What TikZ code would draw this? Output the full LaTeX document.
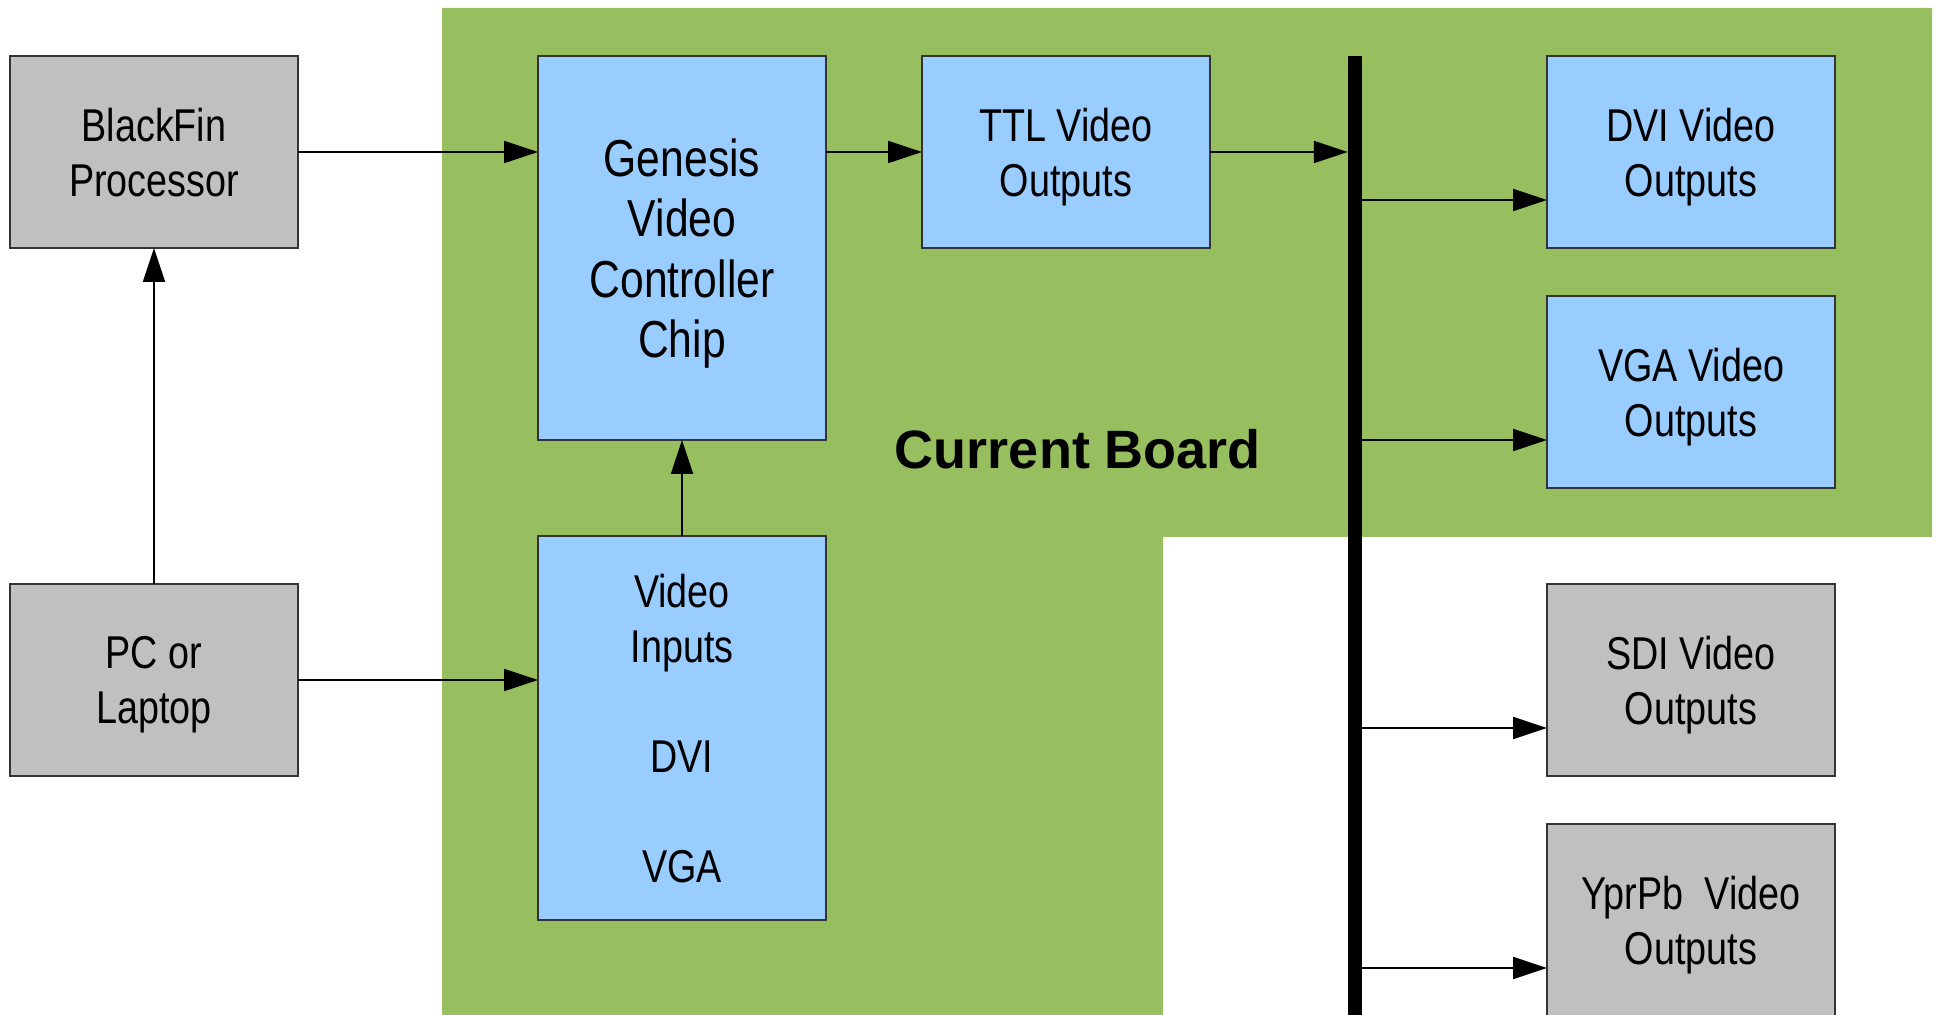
\documentclass[tikz,border=0pt]{standalone}
\usepackage{fontspec}
\setmainfont{Liberation Sans}
\newfontfamily\narrowfont[FakeStretch=0.82]{Liberation Sans}
\usepackage{tikz}
\usetikzlibrary{
  arrows.meta,
  positioning
}
\definecolor{boardcolor}{RGB}{151, 190, 95}
\definecolor{chipcolor}{RGB}{153, 204, 255}
\definecolor{extcolor}{RGB}{192, 192, 192}
\definecolor{edgecolor}{RGB}{52, 52, 52}
\tikzset{
blocktext/.style={
  align=center,
  font=\narrowfont\fontsize{23}{27.5}\selectfont,
  text=black,
  text depth=0pt
},
extblock/.style={
  draw=edgecolor,
  line width=0.75pt,
  fill=extcolor,
  minimum height=96pt,
  minimum width=144pt,
  inner sep=0pt,
  outer sep=0pt,
  blocktext
},
chipblock/.style={
  extblock,
  fill=chipcolor
},
tallblock/.style={
  chipblock,
  minimum height=192pt
},
boardlabel/.style={
  font=\bfseries\fontsize{27}{30}\selectfont,
  text=black
},
busline/.style={
  line width=7.25pt,
  draw=black
},
arrow/.style={
  -{Triangle[length=17pt,width=11pt]},
  line width=0.9pt,
  draw=black
}
}

\begin{document}
\begin{tikzpicture}[x=0.5pt,y=-0.5pt]
  \useasboundingbox (0,0) rectangle (1939,1015);
  % board area
  \fill[boardcolor] (442,8) -- (1932,8) -- (1932,537) -- (1163,537)
    -- (1163,1015) -- (442,1015) -- cycle;
  \node[boardlabel] (board) at (1078,449) {Current Board};

  % left side
  \node[extblock] (blackfin) at (154,152) {BlackFin\\Processor};
  \node[extblock, below=168pt of blackfin] (pc) {PC or\\Laptop};

  % board blocks
  \node[tallblock, right=120pt of blackfin.north east, anchor=north west,
    font=\narrowfont\fontsize{26}{30.25}\selectfont] (genesis)
    {Genesis\\Video\\Controller\\Chip};
  \node[tallblock, below=48pt of genesis] (videoin)
    {Video\\Inputs\\[27.5pt]DVI\\[27.5pt]VGA};
  \node[chipblock, right=48pt of genesis.north east, anchor=north west] (ttl)
    {TTL Video\\Outputs};

  % output bus
  \coordinate[right=72.5pt of ttl.north east] (bustop);
  \coordinate (busbottom) at (bustop |- 0,1015);
  \draw[busline] (bustop) -- (busbottom);

  \node[chipblock, right=96pt of bustop, anchor=north west] (dvi)
    {DVI Video\\Outputs};
  \node[chipblock, below=24pt of dvi] (vga) {VGA Video\\Outputs};
  \node[extblock, below=48pt of vga] (sdi) {SDI Video\\Outputs};
  \node[extblock, below=24pt of sdi] (yprpb) {YprPb\ \ Video\\Outputs};

  % connectors
  \draw[arrow] (blackfin) -- (genesis.west |- blackfin);
  \draw[arrow] (pc) -- (blackfin);
  \draw[arrow] (pc) -- (videoin.west |- pc);
  \draw[arrow] (videoin) -- (genesis);
  \draw[arrow] (genesis.east |- ttl) -- (ttl);
  \draw[arrow] (ttl) -- ([xshift=-3.6pt]bustop |- ttl);
  \foreach \out in {dvi, vga, sdi, yprpb} {
    \coordinate (\out-in) at ([yshift=-24pt]\out.west);
    \draw[arrow] (bustop |- \out-in) -- (\out-in);
  }
\end{tikzpicture}
\end{document}
